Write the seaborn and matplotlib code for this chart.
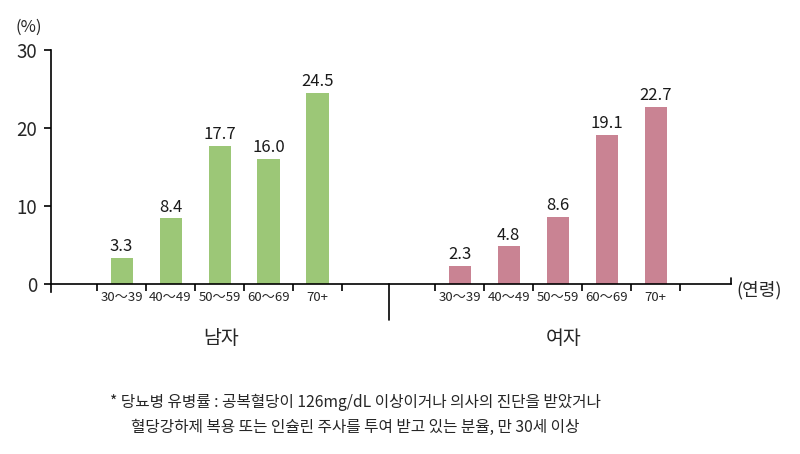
import matplotlib
matplotlib.use("Agg")
import matplotlib.pyplot as plt
import seaborn as sns
import pandas as pd
import numpy as np

# ---- data ----
ages = ["30～39", "40～49", "50～59", "60～69", "70+"]
male = [3.3, 8.4, 17.7, 16.0, 24.5]
female = [2.3, 4.8, 8.6, 19.1, 22.7]
groups = ["남자", "여자"]
yticks = [0, 10, 20, 30]
note = ["* 당뇨병 유병률 : 공복혈당이 126mg/dL 이상이거나 의사의 진단을 받았거나",
        "혈당강하제 복용 또는 인슐린 주사를 투여 받고 있는 분율, 만 30세 이상"]

sns.set_theme(style="white")
plt.rcParams['font.family'] = ['Noto Sans CJK KR', 'DejaVu Sans']

# layout (slot units)
group_start = [0.94, 7.84]     # first boundary tick of each group
sep_x = 6.89
x_end = 13.88

rows = []
for g, vals, start in zip(groups, [male, female], group_start):
    for i, (a, v) in enumerate(zip(ages, vals)):
        rows.append({"sex": g, "age": a, "value": v, "pos": start + i + 0.5})
df = pd.DataFrame(rows)

fig = plt.figure(figsize=(8, 4.54), dpi=100)
ax = fig.add_axes([51/800, (454-292)/454, (731-51)/800, (292-50)/454])

palette = {"남자": "#9cc777", "여자": "#c98393"}
sns.barplot(data=df, x="pos", y="value", hue="sex", palette=palette,
            native_scale=True, dodge=False, width=0.45, legend=False,
            saturation=1, ax=ax, edgecolor="none")

for c in ax.containers:
    ax.bar_label(c, fmt="%.1f", padding=2, fontsize=12, color="#1a1a1a")

ax.set_xlim(0, x_end)
ax.set_ylim(-1.04, 30)
ax.set_xlabel("")
ax.set_ylabel("")

for s in ["top", "right"]:
    ax.spines[s].set_visible(False)
ax.spines["bottom"].set_position(("data", 0))
ax.spines["left"].set_bounds(-1.04, 30)
for s in ["left", "bottom"]:
    ax.spines[s].set_color("black")
    ax.spines[s].set_linewidth(1.2)

ax.set_yticks(yticks)
ax.set_yticklabels([str(t) for t in yticks], fontsize=13.5)
ax.tick_params(axis="y", direction="out", length=5, width=1.2, color="black",
               left=True, pad=5)

# boundary ticks (major) and labels (minor)
bounds = [s + k for s in group_start for k in range(6)]
ax.set_xticks(bounds)
ax.set_xticklabels([""] * len(bounds))
ax.tick_params(axis="x", which="major", direction="out", length=5, width=1.2,
               color="black", bottom=True)
ax.set_xticks(df["pos"].tolist(), minor=True)
ax.set_xticklabels(df["age"].tolist(), minor=True, fontsize=9.5)
ax.tick_params(axis="x", which="minor", length=0, pad=5)

# end tick and separator
ax.plot([x_end, x_end], [0, 0.8], color="black", lw=1.2, clip_on=False)
ax.plot([sep_x, sep_x], [0, -4.6], color="black", lw=1.2, clip_on=False)

# texts
fig.text(29/800, 1 - 27/454, "(%)", ha="center", va="center", fontsize=12)
fig.text(736/800, 1 - 290/454, "(연령)", ha="left", va="center", fontsize=13)
fig.text(221/800, 1 - 338/454, groups[0], ha="center", va="center", fontsize=14)
fig.text(564/800, 1 - 338/454, groups[1], ha="center", va="center", fontsize=14)
fig.text(355/800, 1 - 402/454, note[0], ha="center", va="center", fontsize=11.3)
fig.text(355/800, 1 - 427/454, note[1], ha="center", va="center", fontsize=11.3)

fig.savefig("out.png", dpi=100)
